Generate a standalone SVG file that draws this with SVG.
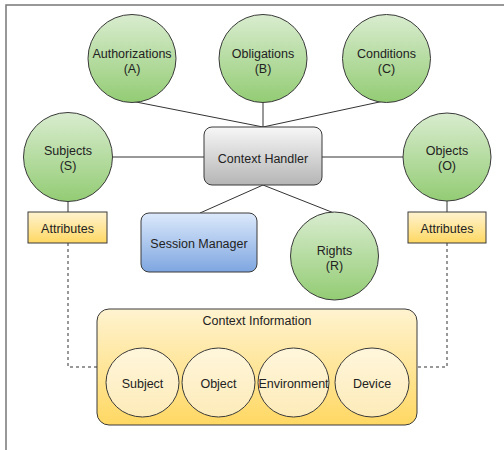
<svg xmlns="http://www.w3.org/2000/svg" width="504" height="450" viewBox="0 0 504 450">
<defs>
<linearGradient id="gGreen" x1="0" y1="0" x2="0" y2="1"><stop offset="0" stop-color="#d9eccf"/><stop offset="1" stop-color="#93cc74"/></linearGradient>
<linearGradient id="gGray" x1="0" y1="0" x2="0" y2="1"><stop offset="0" stop-color="#f7f7f7"/><stop offset="1" stop-color="#b5b5b5"/></linearGradient>
<linearGradient id="gBlue" x1="0" y1="0" x2="0" y2="1"><stop offset="0" stop-color="#dce9fb"/><stop offset="1" stop-color="#7ea6e0"/></linearGradient>
<linearGradient id="gYellow" x1="0" y1="0" x2="0" y2="1"><stop offset="0" stop-color="#fff3d0"/><stop offset="1" stop-color="#ffd863"/></linearGradient>
<linearGradient id="gPale" x1="0" y1="0" x2="0" y2="1"><stop offset="0" stop-color="#fff6dc"/><stop offset="1" stop-color="#fdebb8"/></linearGradient>
</defs>
<style>
text{font-family:"Liberation Sans",Arial,sans-serif;font-size:12.5px;fill:#222;text-anchor:middle}
.g{fill:url(#gGreen);stroke:#3a3a3a;stroke-width:1}
.c{stroke:#333;stroke-width:1;fill:none}
.d{stroke:#333;stroke-width:1;fill:none;stroke-dasharray:3,3}
.y{fill:url(#gYellow);stroke:#3a3a3a;stroke-width:1}
.p{fill:url(#gPale);stroke:#3a3a3a;stroke-width:1}
</style>
<rect width="504" height="450" fill="#fff"/>
<path d="M6,450 V5 H504" fill="none" stroke="#777" stroke-width="1.5"/>
<g id="connectors">
<line class="c" x1="131" y1="101" x2="263" y2="127"/>
<line class="c" x1="263" y1="102" x2="263" y2="127"/>
<line class="c" x1="384" y1="101" x2="263" y2="127"/>
<line class="c" x1="112" y1="157" x2="204" y2="157"/>
<line class="c" x1="322" y1="157" x2="404" y2="157"/>
<line class="c" x1="263" y1="185" x2="200" y2="213"/>
<line class="c" x1="263" y1="185" x2="334" y2="213"/>
<line class="c" x1="68" y1="201" x2="68" y2="212"/>
<line class="c" x1="447" y1="201" x2="447" y2="212"/>
<path class="d" d="M68,243 V367 H97"/>
<path class="d" d="M447,243 V367 H417"/>
</g>
<g id="authorizations"><circle class="g" cx="132" cy="58.5" r="44"/><text x="132" y="57.5">Authorizations</text><text x="132" y="72.5">(A)</text></g>
<g id="obligations"><circle class="g" cx="263" cy="58.5" r="44"/><text x="263" y="57.5">Obligations</text><text x="263" y="72.5">(B)</text></g>
<g id="conditions"><circle class="g" cx="386.5" cy="58.5" r="44"/><text x="386.5" y="57.5">Conditions</text><text x="386.5" y="72.5">(C)</text></g>
<g id="subjects"><circle class="g" cx="68" cy="157" r="44.5"/><text x="68" y="155">Subjects</text><text x="68" y="170">(S)</text></g>
<g id="objects"><circle class="g" cx="447" cy="157" r="44"/><text x="447" y="155">Objects</text><text x="447" y="170">(O)</text></g>
<g id="context-handler"><rect x="204" y="127" width="118" height="58" rx="8" fill="url(#gGray)" stroke="#3a3a3a"/><text x="263" y="162.5">Context Handler</text></g>
<g id="session-manager"><rect x="141" y="213" width="116" height="59" rx="8" fill="url(#gBlue)" stroke="#3a3a3a"/><text x="199" y="247.5">Session Manager</text></g>
<g id="rights"><circle class="g" cx="334.5" cy="256" r="44"/><text x="334.5" y="255">Rights</text><text x="334.5" y="270">(R)</text></g>
<g id="attributes-left"><rect class="y" x="28" y="212" width="79" height="31"/><text x="67.5" y="232.5">Attributes</text></g>
<g id="attributes-right"><rect class="y" x="408" y="212" width="78" height="31"/><text x="447" y="232.5">Attributes</text></g>
<g id="context-information"><rect class="y" x="97" y="309" width="320" height="116" rx="12"/><text x="257" y="324.5">Context Information</text></g>
<g id="subject"><ellipse class="p" cx="142.5" cy="382.5" rx="36.5" ry="34.5"/><text x="142.5" y="387.5">Subject</text></g>
<g id="object"><ellipse class="p" cx="218.5" cy="382.5" rx="36.5" ry="34.5"/><text x="218.5" y="387.5">Object</text></g>
<g id="environment"><ellipse class="p" cx="293.5" cy="382.5" rx="35.5" ry="34.5"/><text x="293.5" y="387.5">Environment</text></g>
<g id="device"><ellipse class="p" cx="372" cy="382.5" rx="37" ry="34.5"/><text x="372" y="387.5">Device</text></g>
</svg>
